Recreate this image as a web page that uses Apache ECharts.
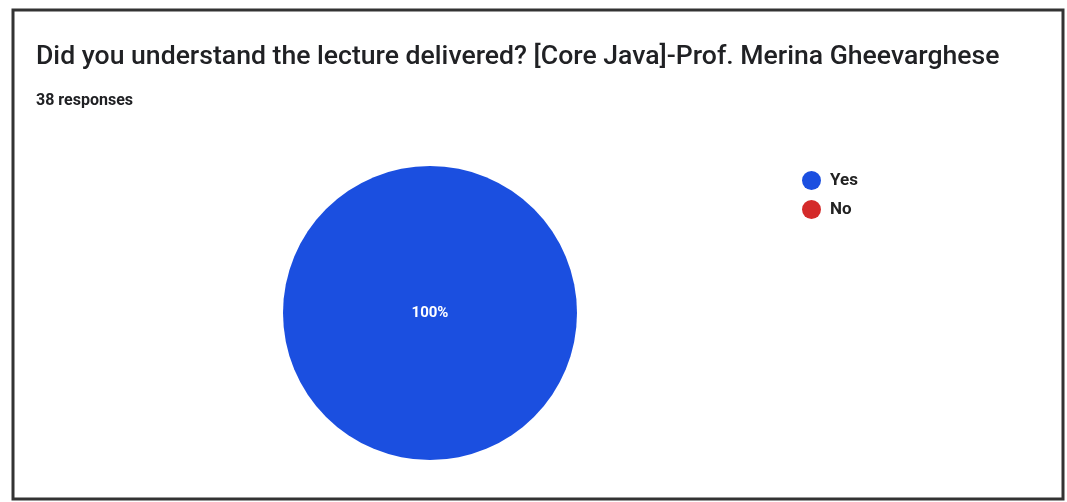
<!DOCTYPE html>
<html><head><meta charset="utf-8">
<script src="https://cdn.jsdelivr.net/npm/echarts@6/dist/echarts.min.js"></script>
<style>html,body{margin:0;padding:0;background:#fff}#c{width:1067px;height:502px}</style>
</head><body><div id="c"></div>
<script>
const titleText = "Did you understand the lecture delivered? [Core Java]-Prof. Merina Gheevarghese";
const subtitleText = "38 responses";
const categories = ["Yes", "No"];
const counts = [38, 0];
const colors = ["#1b4fe0", "#d42a2a"];

const chart = echarts.init(document.getElementById('c'));
chart.setOption({
  animation: false,
  color: colors,
  title: [
    {text: titleText, left: 31, top: 39, textStyle: {fontFamily: 'Roboto', fontSize: 26.6, fontWeight: 500, color: '#202124'}},
    {text: subtitleText, left: 31, top: 88, textStyle: {fontFamily: 'Roboto', fontSize: 16, fontWeight: 'bold', color: '#202124', letterSpacing: 1.5}}
  ],
  legend: {
    orient: 'vertical', left: 797, top: 166, itemGap: 10, icon: 'circle', itemWidth: 19, itemHeight: 19,
    data: categories,
    textStyle: {fontFamily: 'Roboto', fontSize: 17, fontWeight: 'bold', color: '#222', padding: [0, 0, 0, 4]}
  },
  graphic: [{type: 'rect', shape: {x: 13, y: 10, width: 1050, height: 489}, style: {fill: 'none', stroke: '#333', lineWidth: 3}}],
  series: [{
    type: 'pie', center: [430, 313], radius: 147, startAngle: 90,
    data: categories.map((c, i) => ({name: c, value: counts[i]})),
    label: {position: 'center', formatter: p => p.percent > 0 ? Math.round(p.percent) + '%' : '', color: '#fff', fontFamily: 'Roboto', fontSize: 15, fontWeight: 'bold'},
    labelLine: {show: false},
    itemStyle: {borderWidth: 0}
  }]
});
</script></body></html>
